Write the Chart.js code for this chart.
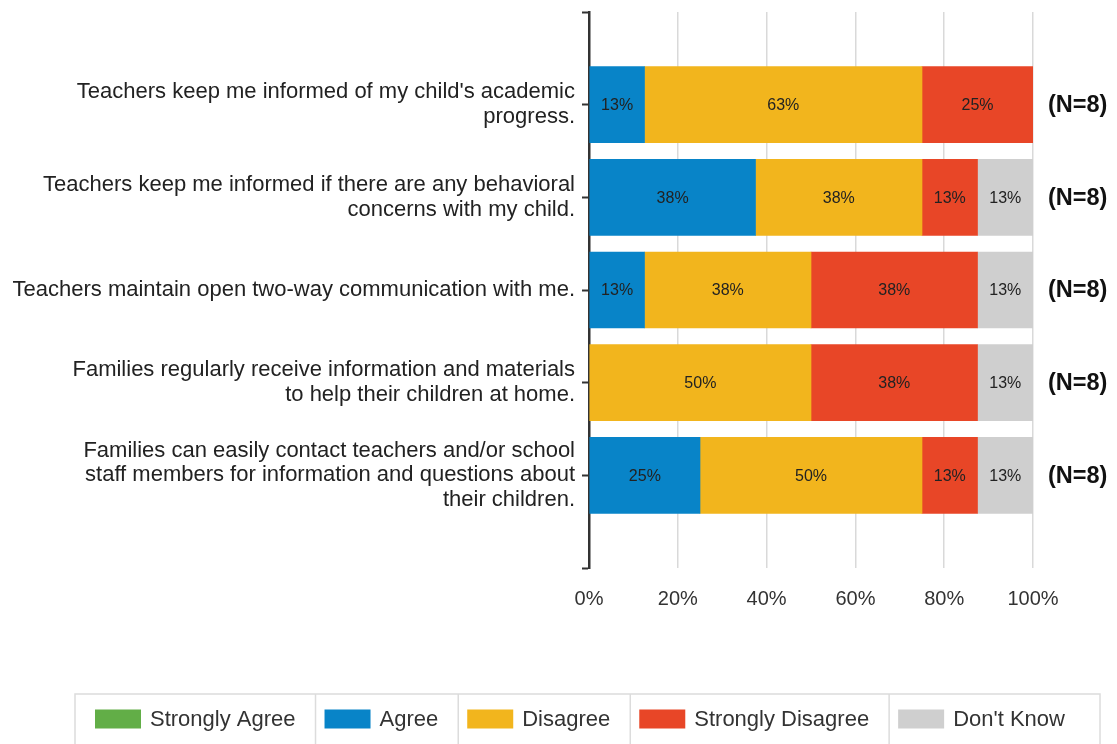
<!DOCTYPE html>
<html>
<head>
<meta charset="utf-8">
<script src="https://cdn.jsdelivr.net/npm/chart.js@4.4.1/dist/chart.umd.min.js"></script>
<style>
html,body{margin:0;padding:0;background:#fff;}
#wrap{width:1117px;height:744px;position:relative;}
</style>
</head>
<body>
<div id="wrap"><canvas id="c" width="1117" height="744"></canvas></div>
<script>
// ---- data ----
const categories = [
  ["Teachers keep me informed of my child's academic", "progress."],
  ["Teachers keep me informed if there are any behavioral", "concerns with my child."],
  ["Teachers maintain open two-way communication with me."],
  ["Families regularly receive information and materials", "to help their children at home."],
  ["Families can easily contact teachers and/or school", "staff members for information and questions about", "their children."]
];
const seriesNames = ["Strongly Agree", "Agree", "Disagree", "Strongly Disagree", "Don't Know"];
const stronglyAgree    = [0, 0, 0, 0, 0];
const agree            = [12.5, 37.5, 12.5, 0, 25];
const disagree         = [62.5, 37.5, 37.5, 50, 50];
const stronglyDisagree = [25, 12.5, 37.5, 37.5, 12.5];
const dontKnow         = [0, 12.5, 12.5, 12.5, 12.5];
const nLabels = ["(N=8)", "(N=8)", "(N=8)", "(N=8)", "(N=8)"];
const xTicks = [0, 20, 40, 60, 80, 100];

const colors = ["#62AE47", "#0884C8", "#F2B51D", "#E84627", "#CFCFCF"];
const FONT = "'Liberation Sans', Arial, sans-serif";

// pad with blank slots at top and bottom of axis
const pad = arr => [null, ...arr, null];
const labels = ["", ...categories, ""];
const seriesData = [stronglyAgree, agree, disagree, stronglyDisagree, dontKnow];

const datasets = seriesNames.map((name, i) => ({
  label: name,
  data: pad(seriesData[i].map(v => v === 0 ? null : v)),
  backgroundColor: colors[i],
  borderWidth: 0,
  barThickness: 76
}));

const barLabelPlugin = {
  id: 'barLabels',
  afterDatasetsDraw(chart) {
    const ctx = chart.ctx;
    ctx.save();
    ctx.font = "16px " + FONT;
    ctx.fillStyle = "#222";
    ctx.textAlign = "center";
    ctx.textBaseline = "middle";
    chart.data.datasets.forEach((ds, di) => {
      const meta = chart.getDatasetMeta(di);
      meta.data.forEach((el, i) => {
        const v = ds.data[i];
        if (v == null || v === 0) return;
        const p = el.getCenterPoint();
        ctx.fillText(Math.round(v) + "%", p.x, p.y + 1);
      });
    });
    ctx.restore();
  }
};

const nPlugin = {
  id: 'nLabels',
  afterDraw(chart) {
    const ctx = chart.ctx;
    const y = chart.scales.y;
    ctx.save();
    ctx.font = "bold 23.5px " + FONT;
    ctx.fillStyle = "#111";
    ctx.textAlign = "left";
    ctx.textBaseline = "middle";
    nLabels.forEach((t, i) => {
      ctx.fillText(t, chart.chartArea.right + 15, y.getPixelForValue(i + 1) + 1);
    });
    ctx.restore();
  }
};

const legendPlugin = {
  id: 'boxLegend',
  afterDraw(chart) {
    const ctx = chart.ctx;
    ctx.save();
    ctx.font = "22px " + FONT;
    const left = 75, top = 694, bottom = 748, right = 1100;
    const sw = 46, sh = 19, gap = 9;
    ctx.strokeStyle = "#dcdcdc";
    ctx.lineWidth = 1.5;
    ctx.strokeRect(left, top, right - left, bottom - top);
    const cy = 719;
    let x = left + 20;
    chart.data.datasets.forEach((ds, i) => {
      ctx.fillStyle = ds.backgroundColor;
      ctx.fillRect(x, cy - sh / 2, sw, sh);
      ctx.fillStyle = "#333";
      ctx.textAlign = "left";
      ctx.textBaseline = "middle";
      ctx.fillText(ds.label, x + sw + gap, cy + 1);
      const end = x + sw + gap + ctx.measureText(ds.label).width;
      if (i < chart.data.datasets.length - 1) {
        const dx = end + 20;
        ctx.beginPath(); ctx.moveTo(dx, top); ctx.lineTo(dx, bottom); ctx.stroke();
        x = dx + 9;
      }
    });
    ctx.restore();
  }
};

new Chart(document.getElementById('c'), {
  type: 'bar',
  data: { labels, datasets },
  options: {
    indexAxis: 'y',
    responsive: false,
    animation: false,
    layout: { padding: { top: 12, right: 84, bottom: 126, left: 0 } },
    plugins: { legend: { display: false }, tooltip: { enabled: false } },
    scales: {
      x: {
        stacked: true,
        min: 0, max: 100,
        afterBuildTicks: s => { s.ticks = xTicks.map(v => ({ value: v })); },
        afterFit: s => { s.height = 50; },
        border: { display: false },
        grid: { color: "#d9d9d9", lineWidth: 1.5, drawTicks: false },
        ticks: {
          padding: 19,
          color: "#333",
          font: { family: FONT, size: 20 },
          callback: v => v + "%"
        }
      },
      y: {
        stacked: true,
        offset: false,
        afterFit: s => { s.width = 589; s.paddingTop = 0; s.paddingBottom = 0; },
        border: { display: true, color: "#333", width: 2.5 },
        grid: { offset: false, drawOnChartArea: false, drawTicks: true, tickLength: 7, tickColor: "#333", tickWidth: 2 },
        ticks: {
          autoSkip: false,
          padding: 7,
          color: "#222",
          font: { family: FONT, size: 22, lineHeight: 1.13 }
        }
      }
    }
  },
  plugins: [barLabelPlugin, nPlugin, legendPlugin]
});
</script>
</body>
</html>
